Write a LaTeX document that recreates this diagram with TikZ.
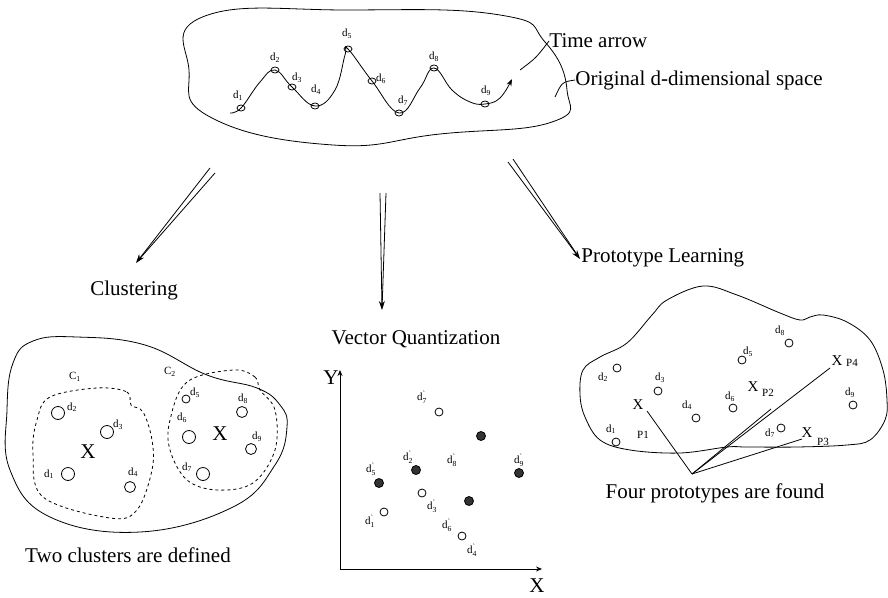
\documentclass[tikz,border=0pt]{standalone}
\usepackage{amsmath}
\usepackage{fontspec}
\setmainfont{Liberation Serif}
\usetikzlibrary{shapes.geometric,arrows.meta}
\newcommand{\dsub}[1]{d\textsubscript{#1}}
\newcommand{\dgr}[1]{$\text{d}^{\text{\textasciigrave}}_{\text{#1}}$}
\begin{document}
\begin{tikzpicture}[x=1pt,y=-1pt,line width=0.8pt,>={Stealth[length=9pt,width=6pt]},
    big/.style={font=\fontsize{21}{25}\selectfont},
    mid/.style={font=\fontsize{15}{18}\selectfont,inner sep=0pt},
    lbl/.style={font=\fontsize{11}{13}\selectfont,inner sep=0pt},
    tdot/.style={draw,ellipse,minimum width=8pt,minimum height=6pt,inner sep=0pt},
    cdot/.style={draw,circle,minimum size=#1,inner sep=0pt},
    qopen/.style={draw,circle,minimum size=8pt,inner sep=0pt,fill=white},
    qfull/.style={draw,circle,minimum size=9pt,inner sep=0pt,fill=black!80}]
    \useasboundingbox (0,0) rectangle (888,597);
    % original space
    \draw plot[smooth cycle,tension=0.8] coordinates {(189,70) (205,16) (350,10) (500,15) (545,42) (567,90) (552,122) (440,134) (333,145) (212,118)};
    \draw[-{Stealth[length=7pt,width=5pt]}] plot[smooth,tension=0.7] coordinates {(230,113) (241,108) (260,82) (275,70) (292,87) (315,106) (335,90) (345,55) (348,49) (372,81) (399,113) (420,88) (434,68) (452,90) (470,102) (485,104) (500,98) (512,79)};
    \foreach \i/\px/\py/\lx/\ly in {1/241/108/238/96, 2/275/70/275/58, 3/292/87/297/78, 4/315/106/316/90, 5/348/49/347/34, 6/372/81/381/79, 7/399/113/403/101, 8/434/68/434/57, 9/485/104/486/91}{
      \node[tdot] (t\i) at (\px,\py) {};
      \node[lbl] (tl\i) at (\lx,\ly) {\dsub{\i}};
    }
    \node[big,anchor=west,inner sep=0pt] (tarr) at (549,41) {Time arrow};
    \node[big,anchor=west,inner sep=0pt] (orig) at (575,80) {Original d-dimensional space};
    \coordinate (tarr0) at (520,70);
    \coordinate (orig0) at (555,97);
    \draw (tarr0) .. controls (536,58) .. (tarr.west);
    \draw (orig0) .. controls (562,82) .. (orig.west);
    % double arrows
    \coordinate (cl1) at (210,168); \coordinate (cl2) at (215,173); \coordinate (clt) at (136,263);
    \coordinate (vq1) at (380,193); \coordinate (vq2) at (386,193); \coordinate (vqt) at (382,310);
    \coordinate (pl1) at (508,162); \coordinate (pl2) at (513,159); \coordinate (plt) at (580,259);
    \draw[shorten >=6pt] (cl2) -- (clt); \draw[->] (cl1) -- (clt);
    \draw[shorten >=6pt] (vq2) -- (vqt); \draw[->] (vq1) -- (vqt);
    \draw[shorten >=6pt] (pl2) -- (plt); \draw[->] (pl1) -- (plt);
    \node[big] (clu) at (134,290) {Clustering};
    \node[big] (vqn) at (416,339) {Vector Quantization};
    \node[big,anchor=west,inner sep=0pt] (pro) at (581,258) {Prototype Learning};
    % clustering
    \draw plot[smooth cycle,tension=0.7] coordinates {(13,363) (33,341) (77,337) (145,345) (207,375) (257,388) (280,405) (287,427) (275,465) (233,507) (140,532) (50,517) (10,470) (7,410)};
    \draw[dashed] plot[smooth cycle,tension=0.6] coordinates {(97,388) (127,392) (131,405) (143,412) (152,440) (152,470) (137,510) (110,518) (43,497) (33,453) (37,420) (50,397)};
    \draw[dashed] plot[smooth cycle,tension=0.6] coordinates {(233,370) (255,377) (260,390) (275,410) (275,450) (253,483) (217,490) (187,480) (170,450) (170,420) (187,382)};
    \foreach \n/\s/\px/\py/\lx/\ly in {a2/2/58/413/72/407, a3/3/107/432/118/425, a1/1/68/474/49/474, b6/6/189/437/182/418, b7/7/203/474/187/467}{
      \node[cdot=13pt] (\n) at (\px,\py) {};
      \node[lbl] (\n l) at (\lx,\ly) {\dsub{\s}};
    }
    \foreach \n/\s/\px/\py/\lx/\ly in {a4/4/130/487/133/472, b8/8/242/412/243/399, b9/9/251/449/257/437}{
      \node[cdot=11pt] (\n) at (\px,\py) {};
      \node[lbl] (\n l) at (\lx,\ly) {\dsub{\s}};
    }
    \node[cdot=8pt] (b5) at (186,399) {};
    \node[lbl] (b5l) at (195,393) {\dsub{5}};
    \node[lbl] (c1) at (75,377) {C\textsubscript{1}};
    \node[lbl] (c2) at (170,372) {C\textsubscript{2}};
    \node[big] (xc1) at (88,452) {X};
    \node[big] (xc2) at (220,434) {X};
    \node[big] (two) at (128,555) {Two clusters are defined};
    % vector quantization
    \coordinate (org) at (340,569);
    \coordinate (ytop) at (340,370);
    \coordinate (xend) at (542,569);
    \draw[{Stealth[length=6pt,width=5pt]}-{Stealth[length=6pt,width=5pt]}] (ytop) -- (org) -- (xend);
    \node[big,inner sep=0pt] (ylab) at (331,378) {Y};
    \node[big,inner sep=0pt] (xlab) at (537,586) {X};
    \foreach \n/\px/\py in {q7/439/412, q3/422/493, q1/384/512, q6/462/536}
      \node[qopen] (\n) at (\px,\py) {};
    \foreach \n/\px/\py in {f1/481/436, f2/416/470, f3/379/483, f4/519/473, f5/469/501}
      \node[qfull] (\n) at (\px,\py) {};
    \foreach \s/\lx/\ly in {7/422/397, 8/452/460, 2/408/457, 5/371/469, 9/519/460, 3/432/506, 1/370/521, 6/447/525, 4/472/550}
      \node[lbl] (vl\s) at (\lx,\ly) {\dgr{\s}};
    % prototype learning
    \draw plot[smooth cycle,tension=0.6] coordinates {(583,370) (600,357) (627,343) (652,315) (667,300) (703,286) (737,295) (780,313) (800,320) (810,317) (823,315) (847,322) (870,340) (883,370) (887,400) (885,420) (870,440) (847,445) (797,447) (747,447) (727,447) (680,453) (630,450) (600,440) (585,417) (580,395)};
    \foreach \s/\px/\py/\lx/\ly in {8/789/343/780/331, 5/742/360/748/352, 2/617/368/603/377, 3/658/391/660/378, 6/733/408/730/397, 9/853/405/850/393, 4/696/418/687/405, 1/616/442/611/429, 7/781/428/770/433}{
      \node[cdot=8pt] (r\s) at (\px,\py) {};
      \node[lbl] (rl\s) at (\lx,\ly) {\dsub{\s}};
    }
    \node[mid] (xp1) at (638,405) {X};
    \node[lbl] (p1) at (643,435) {P1};
    \node[mid] (xp2) at (753,387) {X};
    \node[lbl] (p2) at (768,393) {P2};
    \node[mid] (xp4) at (837,361) {X};
    \node[lbl] (p4) at (852,363) {P4};
    \node[mid] (xp3) at (807,433) {X};
    \node[lbl] (p3) at (823,442) {P3};
    \coordinate (apex) at (692,474);
    \coordinate (e1) at (647,411);
    \coordinate (e2) at (771,409);
    \coordinate (e4) at (830,368);
    \coordinate (e3) at (802,439);
    \draw (apex) -- (e1);
    \draw (apex) -- (e2);
    \draw (apex) -- (e4);
    \draw (apex) -- (e3);
    \node[big] (four) at (715,493) {Four prototypes are found};
\end{tikzpicture}
\end{document}
